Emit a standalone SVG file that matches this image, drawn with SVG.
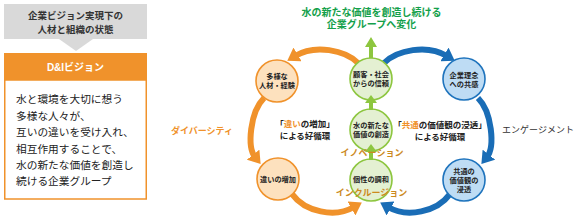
<svg xmlns="http://www.w3.org/2000/svg" width="576" height="217" viewBox="0 0 576 217">
<defs>
<style>
text{font-family:"Liberation Sans","Noto Sans CJK JP",sans-serif;dominant-baseline:central}
.c{text-anchor:middle}
.b{font-weight:bold}
.ct{font-size:7.2px;font-weight:bold;fill:#222;text-anchor:middle}
.oc{fill:#fde1be;stroke:#f0922b;stroke-width:1.6}
.gc{fill:#e4f0d2;stroke:#8dc63f;stroke-width:1.6}
.bc{fill:#bedcf4;stroke:#1f74bd;stroke-width:1.6}
.oa{fill:none;stroke:#f0922b;stroke-width:6}
.ba{fill:none;stroke:#1a6db6;stroke-width:6}
.ga{fill:#8dc63f}
.mid{font-size:8.5px;font-weight:bold;fill:#222;text-anchor:middle}
.gold{font-size:9px;font-weight:bold;fill:#cc8a1e;text-anchor:middle}
</style>
<marker id="mo" markerUnits="userSpaceOnUse" markerWidth="16" markerHeight="16" refX="3" refY="8" orient="auto"><path d="M0,0 L12,8 L0,16 z" fill="#f0922b"/></marker>
<marker id="mb" markerUnits="userSpaceOnUse" markerWidth="16" markerHeight="16" refX="3" refY="8" orient="auto"><path d="M0,0 L12,8 L0,16 z" fill="#1a6db6"/></marker>
</defs>
<rect width="576" height="217" fill="#fff"/>

<g id="state-header">
<rect x="4" y="4" width="143" height="35" fill="#d9d9d9"/>
<text x="75.5" y="15" class="c b" font-size="9.5" fill="#333">企業ビジョン実現下の</text>
<text x="75.5" y="29" class="c b" font-size="9.5" fill="#333">人材と組織の状態</text>
<polygon points="59,39 93,39 76,51" fill="#d9d9d9"/>
</g>

<g id="vision-box">
<rect x="4" y="53" width="143" height="27" fill="#f0922b"/>
<text x="75.5" y="67" class="c b" font-size="10" fill="#fff">D&amp;Iビジョン</text>
<rect x="4.75" y="80" width="141.5" height="119" fill="#fff" stroke="#f0922b" stroke-width="1.5"/>
<g font-size="10.7" fill="#222">
<text x="16" y="99">水と環境を大切に想う</text>
<text x="16" y="115.5">多様な人々が、</text>
<text x="16" y="132">互いの違いを受け入れ、</text>
<text x="16" y="148.5">相互作用することで、</text>
<text x="16" y="164.5">水の新たな価値を創造し</text>
<text x="16" y="181">続ける企業グループ</text>
</g>
</g>

<g id="goal-title">
<text x="371.5" y="12" class="c b" font-size="10" fill="#13a04a">水の新たな価値を創造し続ける</text>
<text x="371.5" y="24.5" class="c b" font-size="10" fill="#13a04a">企業グループへ変化</text>
</g>

<g id="connectors">
<path class="oa" d="M358,63 C345,50 315,44 295,56" marker-end="url(#mo)"/>
<path class="oa" d="M264,98 C250,112 247,147 255,157" marker-end="url(#mo)"/>
<path class="oa" d="M292,194 C305,212 335,218 354,207" marker-end="url(#mo)"/>
<path class="ba" d="M384,63 C397,50 427,44 447,56" marker-end="url(#mb)"/>
<path class="ba" d="M478,98 C492,112 495,147 487,157" marker-end="url(#mb)"/>
<path class="ba" d="M450,194 C437,212 407,218 388,207" marker-end="url(#mb)"/>
</g>

<g id="node-diverse-talent">
<circle class="oc" cx="277" cy="81" r="21"/>
<text x="277" y="76" class="ct">多様な</text>
<text x="277" y="85" class="ct">人材・経験</text>
</g>
<g id="node-difference">
<circle class="oc" cx="278" cy="179" r="21"/>
<text x="278" y="179" class="ct">違いの増加</text>
</g>
<g id="node-trust">
<circle class="gc" cx="371" cy="79" r="21"/>
<text x="371" y="74.5" class="ct">顧客・社会</text>
<text x="371" y="83.5" class="ct">からの信頼</text>
</g>
<g id="node-value">
<circle class="gc" cx="371" cy="130" r="21"/>
<text x="371" y="125.5" class="ct">水の新たな</text>
<text x="371" y="134.5" class="ct">価値の創造</text>
</g>
<g id="node-harmony">
<circle class="gc" cx="371" cy="180" r="21"/>
<text x="371" y="179" class="ct">個性の調和</text>
</g>
<g id="node-philosophy">
<circle class="bc" cx="464" cy="79" r="21"/>
<text x="464" y="75" class="ct">企業理念</text>
<text x="464" y="84" class="ct">への共感</text>
</g>
<g id="node-shared-values">
<circle class="bc" cx="464" cy="180" r="21"/>
<text x="464" y="171" class="ct">共通の</text>
<text x="464" y="180" class="ct">価値観の</text>
<text x="464" y="189" class="ct">浸透</text>
</g>

<g id="green-arrows">
<polygon class="ga" points="369,58 369,47 365,47 371,37 377,47 373,47 373,58"/>
<polygon class="ga" points="369,110 369,103 365,103 371,95 377,103 373,103 373,110"/>
<polygon class="ga" points="369,160 369,152 365,152 371,144 377,152 373,152 373,160"/>
</g>

<g id="labels">
<text x="305" y="124" class="mid">「<tspan fill="#f0922b">違い</tspan>の増加」</text>
<text x="305" y="136" class="mid">による好循環</text>
<text x="440" y="124.5" class="mid">「<tspan fill="#f0922b">共通</tspan>の価値観の浸透」</text>
<text x="440" y="136.5" class="mid">による好循環</text>
<text x="202" y="131" class="c b" font-size="9" fill="#f0922b">ダイバーシティ</text>
<text x="538" y="130" class="c" font-size="9" fill="#333">エンゲージメント</text>
<text x="372" y="153" class="gold">イノベーション</text>
<text x="371.5" y="193" class="gold">インクルージョン</text>
</g>
</svg>
